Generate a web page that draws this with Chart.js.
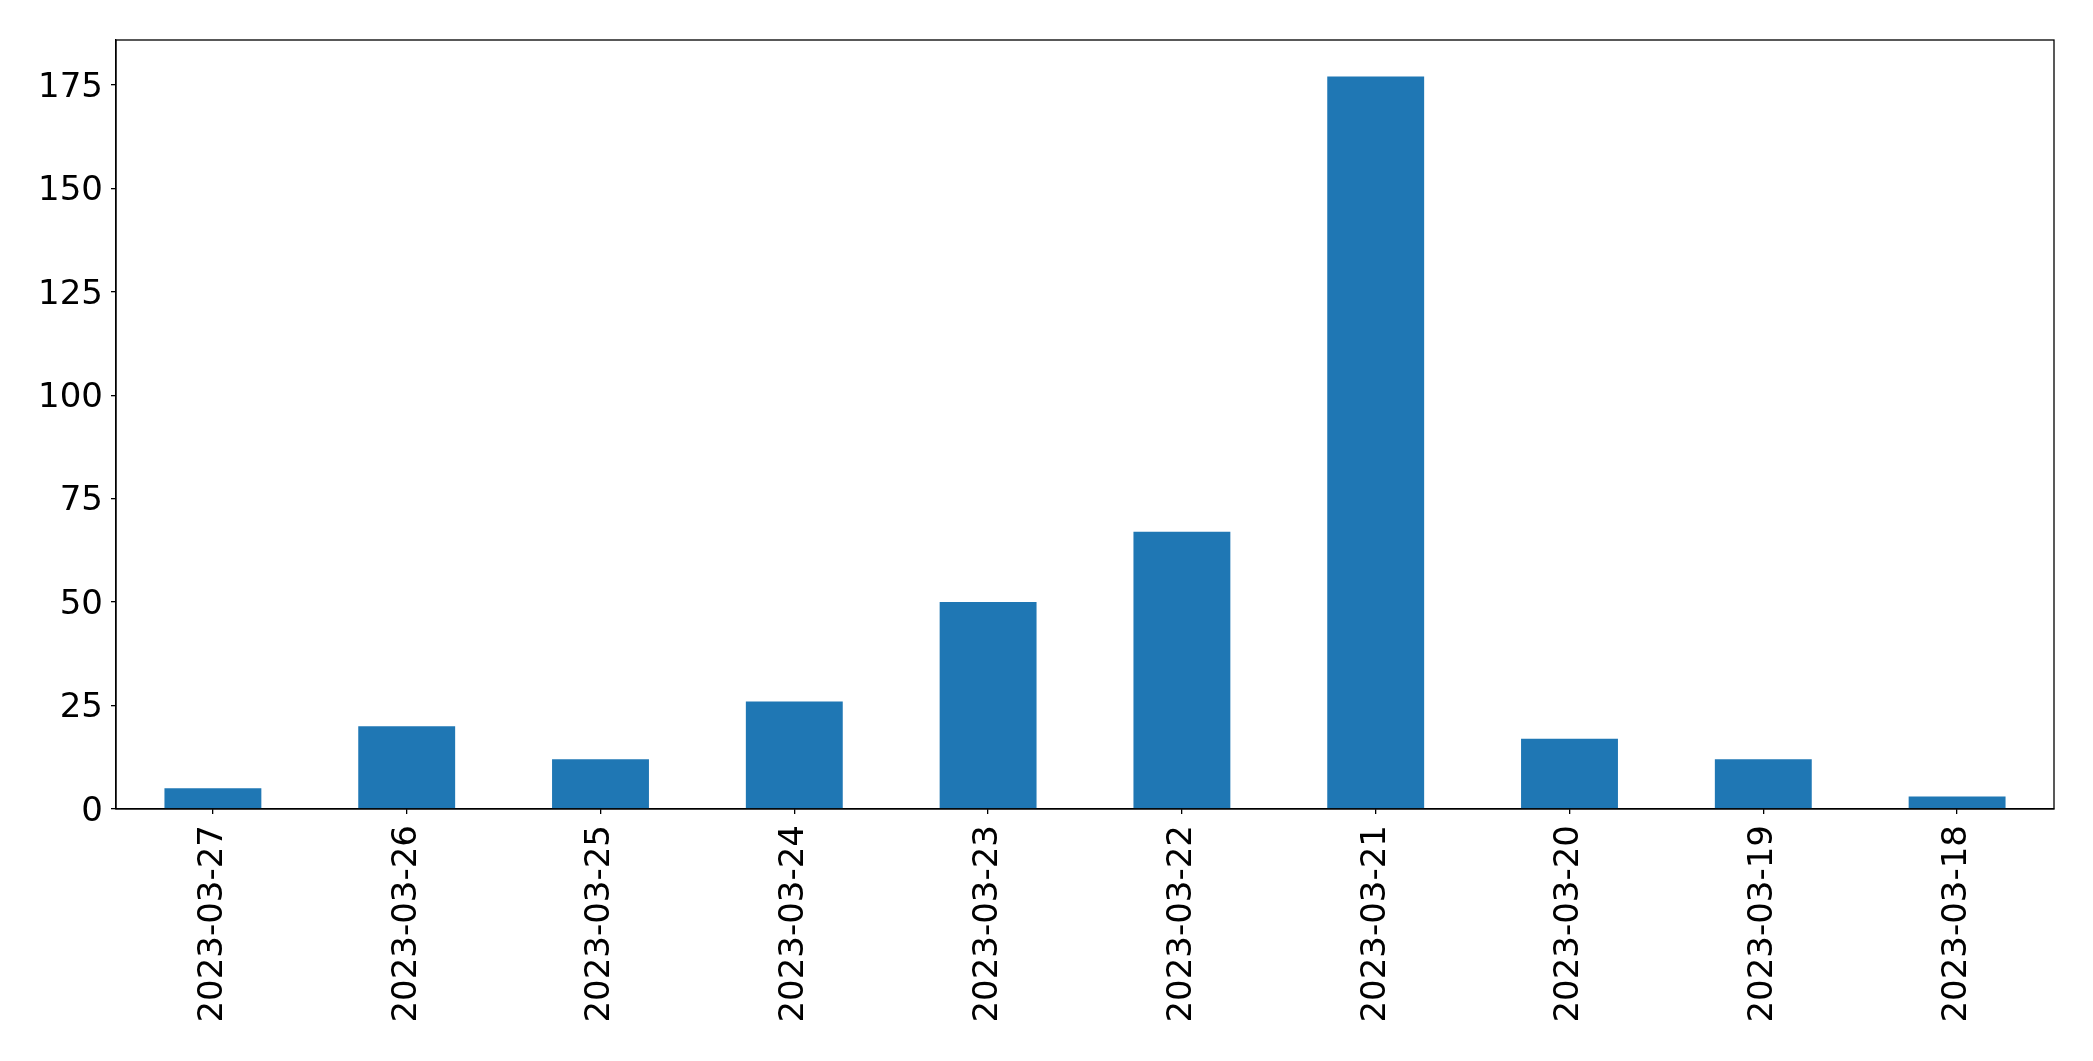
<!DOCTYPE html>
<html>
<head>
<meta charset="utf-8">
<script src="https://cdn.jsdelivr.net/npm/chart.js@4.4.1/dist/chart.umd.min.js"></script>
<style>
  html, body { margin: 0; padding: 0; background: #fff; }
  canvas { display: block; }
</style>
</head>
<body>
<canvas id="chart" width="2093" height="1061"></canvas>
<script>
// dates, newest first (as in the reference)
const dates = ['2023-03-27', '2023-03-26', '2023-03-25', '2023-03-24', '2023-03-23',
               '2023-03-22', '2023-03-21', '2023-03-20', '2023-03-19', '2023-03-18'];
const counts = [5, 20, 12, 26, 50, 67, 177, 17, 12, 3];
const yTicks = [0, 25, 50, 75, 100, 125, 150, 175];

// matplotlib-style box around the plot area
const frame = {
  id: 'frame',
  afterDraw(chart) {
    const { ctx, chartArea: a } = chart;
    ctx.save();
    ctx.strokeStyle = '#000';
    ctx.lineWidth = 1.3;
    ctx.strokeRect(a.left, a.top, a.right - a.left, a.bottom - a.top);
    ctx.restore();
  },
};

const tickFont = { family: '"DejaVu Sans", sans-serif', size: 34 };

new Chart(document.getElementById('chart'), {
  type: 'bar',
  data: {
    labels: dates,
    datasets: [{
      data: counts,
      backgroundColor: '#1f77b4',
      borderWidth: 0,
      categoryPercentage: 1,
      barPercentage: 0.5,
    }],
  },
  options: {
    responsive: false,
    animation: false,
    devicePixelRatio: 1,
    layout: { padding: { top: 40, right: 39, left: 0, bottom: 0 } },
    plugins: { legend: { display: false }, tooltip: { enabled: false } },
    scales: {
      x: {
        offset: true,
        afterFit: (s) => { s.height = 252; },
        grid: { display: true, drawOnChartArea: false, drawTicks: true, tickLength: 5, offset: false, color: '#000', lineWidth: 1.3 },
        border: { display: true, color: '#000', width: 1.3 },
        ticks: { color: '#000', font: tickFont, minRotation: 90, maxRotation: 90, padding: 11, autoSkip: false },
      },
      y: {
        min: 0,
        max: Math.max(...counts) * 1.05,
        afterFit: (s) => { s.width = 116; },
        afterBuildTicks: (s) => { s.ticks = yTicks.map((v) => ({ value: v })); },
        grid: { display: true, drawOnChartArea: false, drawTicks: true, tickLength: 5, color: '#000', lineWidth: 1.3 },
        border: { display: true, color: '#000', width: 1.3 },
        ticks: { color: '#000', font: tickFont, padding: 8, labelOffset: 3 },
      },
    },
  },
  plugins: [frame],
});
</script>
</body>
</html>
